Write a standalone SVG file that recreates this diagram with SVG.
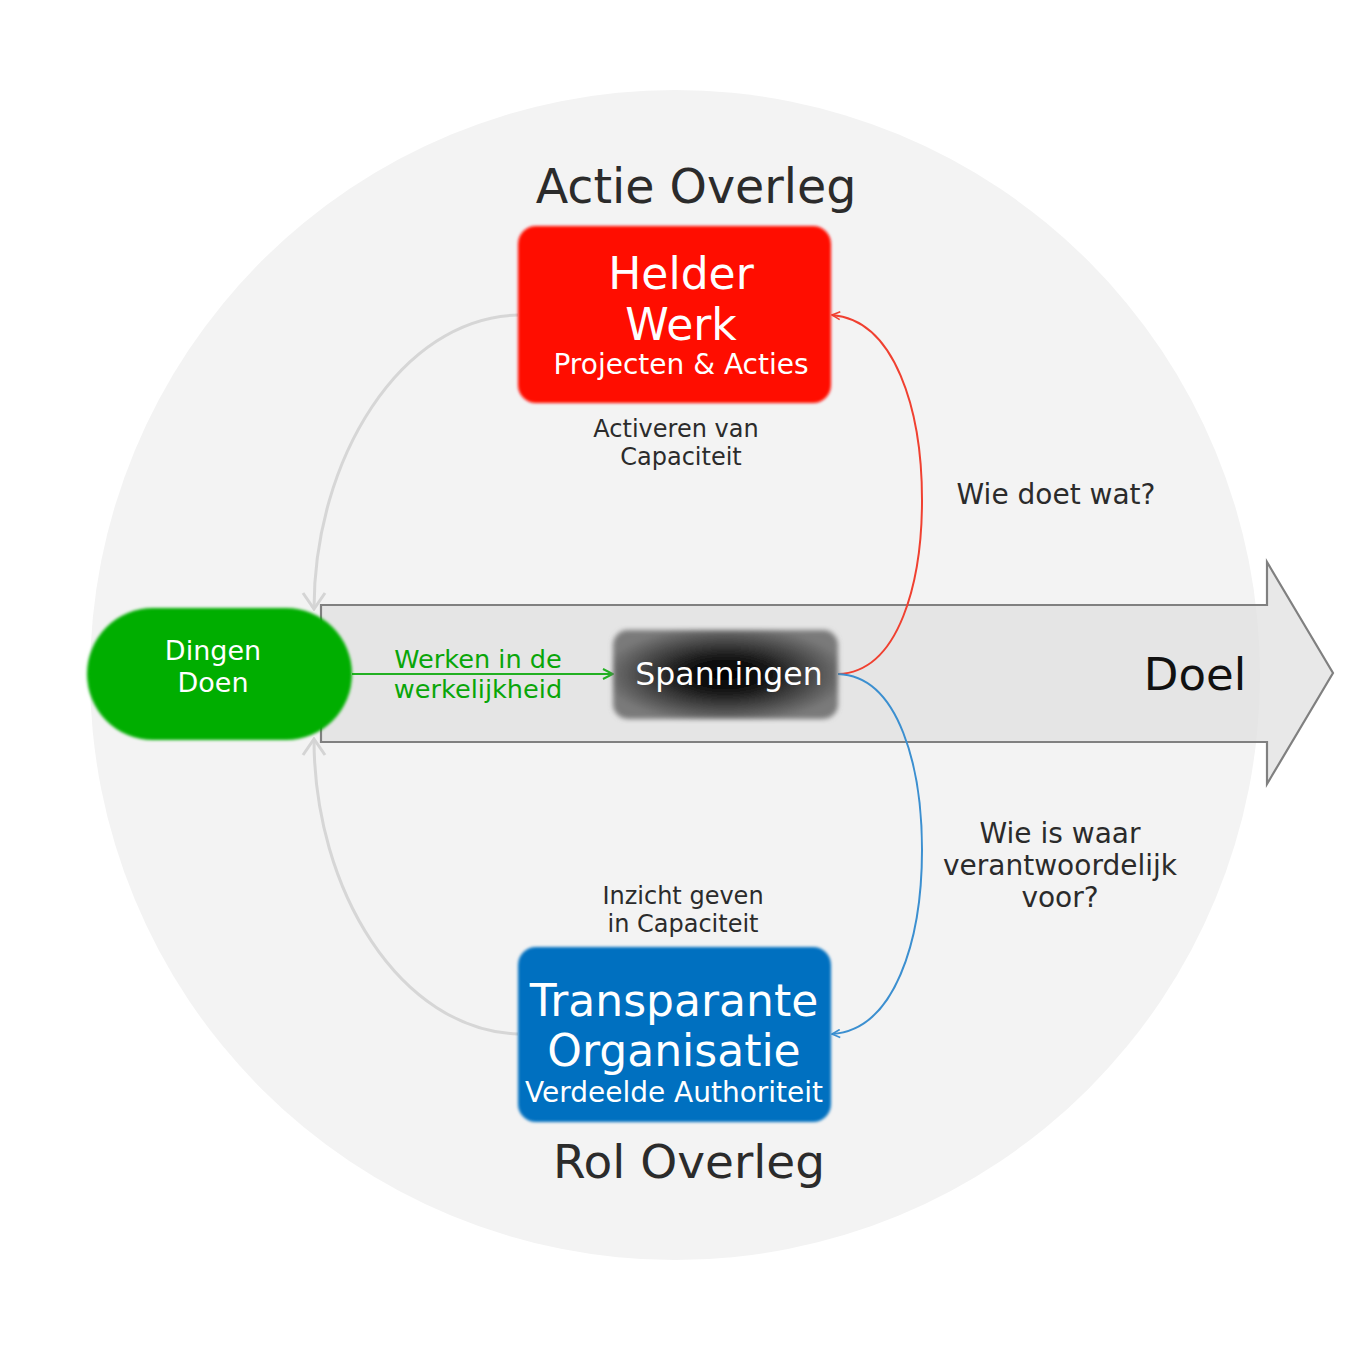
<svg xmlns="http://www.w3.org/2000/svg" width="1350" height="1350" viewBox="0 0 1350 1350">
<defs>
<style>
text{font-family:"DejaVu Sans","Liberation Sans",sans-serif;text-anchor:middle}
.dark{fill:#2b2b2b}
.wh{fill:#ffffff}
.title{font-size:44px}
.sub{font-size:28px}
.lbl{font-size:24px}
.q{font-size:28px}
</style>
<filter id="soft" x="-5%" y="-5%" width="110%" height="110%"><feGaussianBlur stdDeviation="1.6"/></filter>
<filter id="soft2" x="-5%" y="-5%" width="110%" height="110%"><feGaussianBlur stdDeviation="2.5"/></filter>
<radialGradient id="spg" cx="0.5" cy="0.5" r="0.55">
<stop offset="0" stop-color="#000"/>
<stop offset="0.35" stop-color="#141414"/>
<stop offset="1" stop-color="#7a7a7a"/>
</radialGradient>
<marker id="mg" viewBox="0 0 12 12" refX="11" refY="6" markerWidth="12" markerHeight="12" markerUnits="userSpaceOnUse" orient="auto"><path d="M1,1 L11,6 L1,11" fill="none" stroke="#22b022" stroke-width="2"/></marker>
<marker id="mr" viewBox="0 0 10 10" refX="9" refY="5" markerWidth="10" markerHeight="10" markerUnits="userSpaceOnUse" orient="auto"><path d="M1,1 L9,5 L1,9" fill="none" stroke="#f04030" stroke-width="1.6"/></marker>
<marker id="mb" viewBox="0 0 10 10" refX="9" refY="5" markerWidth="10" markerHeight="10" markerUnits="userSpaceOnUse" orient="auto"><path d="M1,1 L9,5 L1,9" fill="none" stroke="#3b8fd0" stroke-width="1.6"/></marker>
<marker id="mx" viewBox="0 0 20 26" refX="18" refY="13" markerWidth="20" markerHeight="26" markerUnits="userSpaceOnUse" orient="auto"><path d="M2,2 L18,13 L2,24" fill="none" stroke="#d4d4d4" stroke-width="3"/></marker>
</defs>
<rect width="1350" height="1350" fill="#ffffff"/>
<circle cx="675" cy="675" r="585" fill="#f3f3f3"/>
<g id="doel-arrow">
<path d="M321,605 H1267 V562 L1333,673 L1267,784 V742 H321 Z" fill="#e0e0e0" fill-opacity="0.75" stroke="#808080" stroke-width="2.2"/>
<text x="1195" y="690" style="font-size:45px;fill:#111">Doel</text>
</g>
<g id="connectors" fill="none">
<path d="M518,315 C400,318 314,460 314,609" stroke="#d6d6d6" stroke-width="3" marker-end="url(#mx)"/>
<path d="M518,1034 C400,1030 314,890 314,739" stroke="#d6d6d6" stroke-width="3" marker-end="url(#mx)"/>
<path d="M352,674 H613" stroke="#22b022" stroke-width="2.2" marker-end="url(#mg)"/>
<path d="M838,674 C900,672 922,580 922,500 C922,410 895,320 832,315" stroke="#f04030" stroke-width="2" marker-end="url(#mr)"/>
<path d="M838,674 C900,676 922,770 922,850 C922,940 895,1030 832,1034" stroke="#3b8fd0" stroke-width="2" marker-end="url(#mb)"/>
</g>
<g id="dingen-doen">
<rect x="87" y="608" width="265" height="132" rx="66" fill="#03ae03" filter="url(#soft)"/>
<text x="213" y="660" class="wh" style="font-size:27px">Dingen</text>
<text x="213" y="692" class="wh" style="font-size:27px">Doen</text>
</g>
<g id="werken-label" style="font-size:25.6px;fill:#09a609">
<text x="478" y="668">Werken in de</text>
<text x="478" y="698">werkelijkheid</text>
</g>
<g id="spanningen">
<rect x="613" y="630" width="225" height="89" rx="15" fill="url(#spg)" filter="url(#soft2)"/>
<text x="729" y="685" class="wh" style="font-size:31.5px">Spanningen</text>
</g>
<g id="helder-werk">
<text x="696" y="203" class="dark" style="font-size:47.5px">Actie Overleg</text>
<rect x="518" y="226" width="313" height="177" rx="18" fill="#ff0d00" filter="url(#soft)"/>
<text x="681" y="289" class="wh title">Helder</text>
<text x="681" y="340" class="wh title">Werk</text>
<text x="681" y="374" class="wh sub">Projecten &amp; Acties</text>
<text x="676" y="437" class="dark lbl">Activeren van</text>
<text x="681" y="465" class="dark lbl">Capaciteit</text>
</g>
<g id="transparante-organisatie">
<text x="683" y="904" class="dark lbl">Inzicht geven</text>
<text x="683" y="932" class="dark lbl">in Capaciteit</text>
<rect x="518" y="947" width="313" height="175" rx="18" fill="#0070c0" filter="url(#soft)"/>
<text x="674" y="1016" class="wh title">Transparante</text>
<text x="674" y="1066" class="wh title">Organisatie</text>
<text x="674" y="1102" class="wh sub">Verdeelde Authoriteit</text>
<text x="689" y="1178" class="dark" style="font-size:47px">Rol Overleg</text>
</g>
<g id="questions">
<text x="1056" y="504" class="dark q">Wie doet wat?</text>
<text x="1060" y="843" class="dark q">Wie is waar</text>
<text x="1060" y="875" class="dark q">verantwoordelijk</text>
<text x="1060" y="907" class="dark q">voor?</text>
</g>
</svg>
